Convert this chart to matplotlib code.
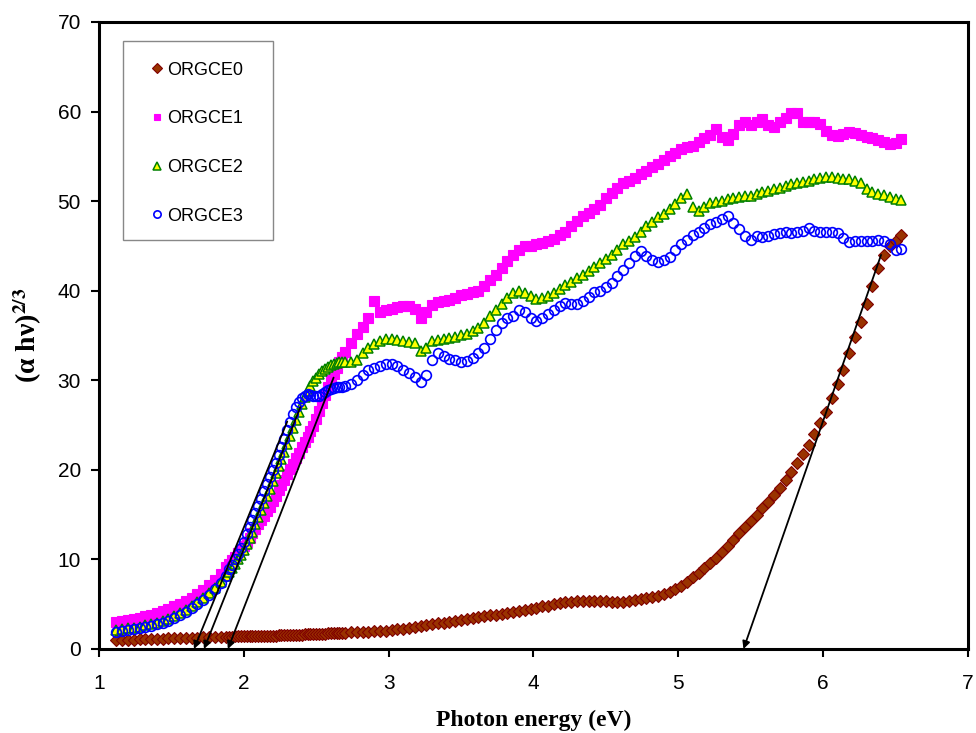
import numpy as np
import matplotlib
matplotlib.use("Agg")
import matplotlib.pyplot as plt
from matplotlib.patches import Rectangle

# photon energy grid (eV): coarse at low energy, fine on the edge, coarse again
energy = np.concatenate([
    np.linspace(1.12, 1.88, 20),
    np.linspace(1.90, 2.68, 40),
    np.linspace(2.70, 6.54, 97),
])

# (alpha h nu)^(2/3), 10 values per row
orgce0 = [
    1.0, 1.0, 1.05, 1.05, 1.1, 1.1, 1.1, 1.15, 1.15, 1.2,
    1.2, 1.2, 1.25, 1.25, 1.25, 1.3, 1.3, 1.3, 1.35, 1.35,
    1.35, 1.35, 1.4, 1.4, 1.4, 1.4, 1.4, 1.45, 1.45, 1.45,
    1.45, 1.45, 1.5, 1.5, 1.5, 1.5, 1.5, 1.55, 1.55, 1.55,
    1.55, 1.6, 1.6, 1.6, 1.6, 1.6, 1.65, 1.65, 1.65, 1.65,
    1.7, 1.7, 1.7, 1.7, 1.75, 1.75, 1.75, 1.8, 1.8, 1.8,
    1.8, 1.85, 1.9, 1.9, 1.95, 2.0, 2.0, 2.05, 2.1, 2.2,
    2.25, 2.35, 2.45, 2.55, 2.65, 2.75, 2.85, 2.95, 3.05, 3.15,
    3.25, 3.35, 3.45, 3.55, 3.65, 3.75, 3.85, 3.95, 4.05, 4.15,
    4.25, 4.35, 4.5, 4.6, 4.75, 4.85, 5.0, 5.1, 5.2, 5.3,
    5.35, 5.4, 5.4, 5.4, 5.4, 5.35, 5.3, 5.3, 5.3, 5.35,
    5.45, 5.55, 5.65, 5.8, 5.95, 6.1, 6.35, 6.65, 7.0, 7.5,
    8.0, 8.5, 9.0, 9.6, 10.2, 10.8, 11.5, 12.2, 12.9, 13.6,
    14.3, 15.0, 15.7, 16.4, 17.2, 18.0, 18.9, 19.8, 20.8, 21.8,
    22.8, 24.0, 25.2, 26.5, 28.0, 29.6, 31.2, 33.0, 34.8, 36.5,
    38.5, 40.5, 42.5, 44.0, 45.0, 45.6, 46.2,
]
orgce1 = [
    3.0, 3.1, 3.2, 3.35, 3.5, 3.65, 3.8, 4.0, 4.25, 4.5,
    4.8, 5.05, 5.35, 5.7, 6.1, 6.6, 7.1, 7.7, 8.4, 9.1,
    9.5, 9.9, 10.3, 10.7, 11.1, 11.5, 11.9, 12.4, 12.9, 13.4,
    13.9, 14.4, 14.9, 15.4, 15.9, 16.5, 17.1, 17.7, 18.3, 18.9,
    19.5, 20.1, 20.7, 21.3, 21.9, 22.5, 23.1, 23.7, 24.3, 24.9,
    25.7, 26.6, 27.5, 28.4, 29.2, 30.0, 30.7, 31.4, 32.0, 32.6,
    33.2, 34.2, 35.2, 36.0, 37.0, 38.8, 37.6, 37.8, 38.0, 38.2,
    38.3, 38.3, 38.0, 36.9, 37.6, 38.4, 38.7, 38.8, 39.0, 39.2,
    39.5, 39.6, 39.8, 40.0, 40.5, 41.2, 41.8, 42.5, 43.3, 44.0,
    44.6, 45.0, 45.0, 45.2, 45.3, 45.5, 45.8, 46.2, 46.6, 47.2,
    47.8, 48.3, 48.7, 49.1, 49.6, 50.3, 50.9, 51.5, 52.0, 52.3,
    52.6, 53.0, 53.4, 53.8, 54.2, 54.6, 55.0, 55.4, 55.8, 56.0,
    56.2, 56.6, 57.0, 57.4, 58.0, 57.2, 56.8, 57.5, 58.5, 58.8,
    58.5, 58.8, 59.2, 58.5, 58.3, 58.8, 59.3, 59.8, 59.8, 58.8,
    58.8, 58.8, 58.6, 57.8, 57.4, 57.3, 57.5, 57.7, 57.6, 57.4,
    57.2, 57.0, 56.8, 56.6, 56.4, 56.5, 56.9,
]
orgce2 = [
    2.1, 2.2, 2.3, 2.4, 2.5, 2.65, 2.8, 2.95, 3.15, 3.35,
    3.7, 4.0, 4.35, 4.75, 5.2, 5.7, 6.25, 6.85, 7.5, 8.2,
    8.6, 9.0, 9.5, 10.0, 10.5, 11.1, 11.7, 12.4, 13.1, 13.9,
    14.7, 15.5, 16.3, 17.1, 17.9, 18.8, 19.6, 20.4, 21.2, 22.0,
    22.9, 23.8, 24.7, 25.6, 26.5, 27.3, 28.1, 28.8, 29.4, 29.9,
    30.3, 30.7, 31.0, 31.3, 31.5, 31.7, 31.8, 31.9, 32.0, 32.0,
    32.0, 32.0, 32.3, 33.0, 33.6, 34.0, 34.4, 34.6, 34.6, 34.5,
    34.4, 34.3, 34.2, 33.3, 33.6, 34.4, 34.5, 34.6, 34.7, 34.8,
    35.0, 35.2, 35.5, 35.8, 36.4, 37.2, 37.8, 38.5, 39.2, 39.7,
    40.0, 39.7, 39.4, 39.1, 39.2, 39.4, 39.7, 40.2, 40.6, 41.0,
    41.4, 41.8, 42.2, 42.6, 43.1, 43.5, 44.0, 44.6, 45.2, 45.6,
    46.0, 46.6, 47.2, 47.7, 48.2, 48.6, 49.1, 49.7, 50.3, 50.8,
    49.3, 48.9, 49.4, 49.8, 49.9, 50.0, 50.2, 50.4, 50.5, 50.6,
    50.6, 50.8, 51.0, 51.1, 51.3, 51.5, 51.7, 51.9, 52.0, 52.1,
    52.3, 52.5, 52.6, 52.7, 52.7, 52.6, 52.5, 52.5, 52.3, 52.0,
    51.4, 51.0, 50.8, 50.7, 50.5, 50.2, 50.1,
]
orgce3 = [
    1.9, 2.0, 2.1, 2.2, 2.3, 2.45, 2.6, 2.75, 2.95, 3.15,
    3.5, 3.8, 4.15, 4.55, 5.0, 5.5, 6.05, 6.7, 7.4, 8.2,
    8.9, 9.4, 10.0, 10.6, 11.3, 12.0, 12.8, 13.6, 14.4, 15.2,
    16.0, 16.8, 17.6, 18.4, 19.2, 20.0, 20.8, 21.7, 22.6, 23.5,
    24.4, 25.3, 26.2, 27.0, 27.6, 28.0, 28.3, 28.5, 28.4, 28.3,
    28.2, 28.3, 28.5, 28.7, 28.9, 29.0, 29.1, 29.2, 29.2, 29.3,
    29.4, 29.6, 30.0, 30.6, 31.1, 31.4, 31.6, 31.8, 31.8, 31.6,
    31.2, 30.8, 30.4, 29.8, 30.6, 32.3, 33.0, 32.7, 32.4, 32.3,
    32.0, 32.1, 32.5, 33.0, 33.6, 34.6, 35.6, 36.4, 37.0, 37.2,
    37.8, 37.6, 37.0, 36.6, 36.9, 37.4, 37.8, 38.3, 38.6, 38.5,
    38.5, 38.8, 39.3, 39.8, 40.0, 40.4, 40.9, 41.6, 42.3, 43.1,
    43.9, 44.4, 43.9, 43.4, 43.2, 43.4, 43.8, 44.6, 45.2, 45.7,
    46.2, 46.6, 47.0, 47.4, 47.7, 48.0, 48.3, 47.6, 46.9, 46.1,
    45.7, 46.1, 46.0, 46.1, 46.3, 46.4, 46.5, 46.4, 46.5, 46.7,
    47.0, 46.7, 46.5, 46.5, 46.5, 46.4, 45.9, 45.4, 45.5, 45.6,
    45.6, 45.6, 45.7, 45.6, 45.2, 44.6, 44.7,
]

# extrapolation arrows (tail on the curve, head on the energy axis)
arrow_tail_x = [2.30, 2.39, 2.62, 6.40]
arrow_tail_y = [25.4, 27.0, 30.3, 44.0]
arrow_head_x = [1.656, 1.725, 1.89, 5.45]

plt.rcParams['font.family'] = ['Liberation Sans', 'DejaVu Sans']
plt.rcParams['mathtext.fontset'] = 'stix'

fig = plt.figure(figsize=(9.76, 7.33), dpi=100)
ax = fig.add_axes([0.1014, 0.1146, 0.8904, 0.8554])

ax.plot(energy, orgce0, 'D', ms=6.3, mfc='#993300', mec='#800000', mew=0.8,
        ls='none', label='ORGCE0')
ax.plot(energy, orgce1, 's', ms=6.6, mfc='#FF00FF', mec='#FF00FF', mew=0.8,
        ls='none', label='ORGCE1')
ax.plot(energy, orgce2, '^', ms=7.8, mfc='#FFFF00', mec='#008000', mew=1.1,
        ls='none', label='ORGCE2')
ax.plot(energy, orgce3, 'o', ms=7.0, mfc='none', mec='#0000FF', mew=1.2,
        ls='none', label='ORGCE3')

for xt, yt, xh in zip(arrow_tail_x, arrow_tail_y, arrow_head_x):
    ax.annotate('', xy=(xh, 0), xytext=(xt, yt),
                arrowprops=dict(arrowstyle='-|>', color='black', lw=1.3,
                                mutation_scale=11, shrinkA=0, shrinkB=0),
                zorder=5)

ax.set_xlim(1, 7)
ax.set_ylim(0, 70)
ax.set_xticks(range(1, 8))
ax.set_yticks(range(0, 71, 10))
ax.tick_params(direction='out', length=6, width=1.5, labelsize=15)
ax.tick_params(axis='x', pad=12)
ax.tick_params(axis='y', pad=7)
for s in ax.spines.values():
    s.set_linewidth(2.2)

ax.set_xlabel('Photon energy (eV)', family='Liberation Serif', weight='bold',
              fontsize=17, labelpad=12)
ax.set_ylabel('(α hν)$^{\\mathbf{2/3}}$', family='Liberation Serif',
              weight='bold', fontsize=20, labelpad=10)

# legend box drawn separately, entries placed inside it
ax.add_patch(Rectangle((0.0276, 0.6523), 0.1726, 0.3174, transform=ax.transAxes,
                       facecolor='white', edgecolor='#888888', lw=1.0, zorder=6))
leg = ax.legend(loc='upper left', bbox_to_anchor=(0.058, 0.9366), fontsize=13,
                frameon=False, labelspacing=1.75, borderpad=0, handlelength=0.8,
                handletextpad=0.2, borderaxespad=0, markerscale=0.75)
leg.set_zorder(7)

plt.savefig('out.png', dpi=100)
